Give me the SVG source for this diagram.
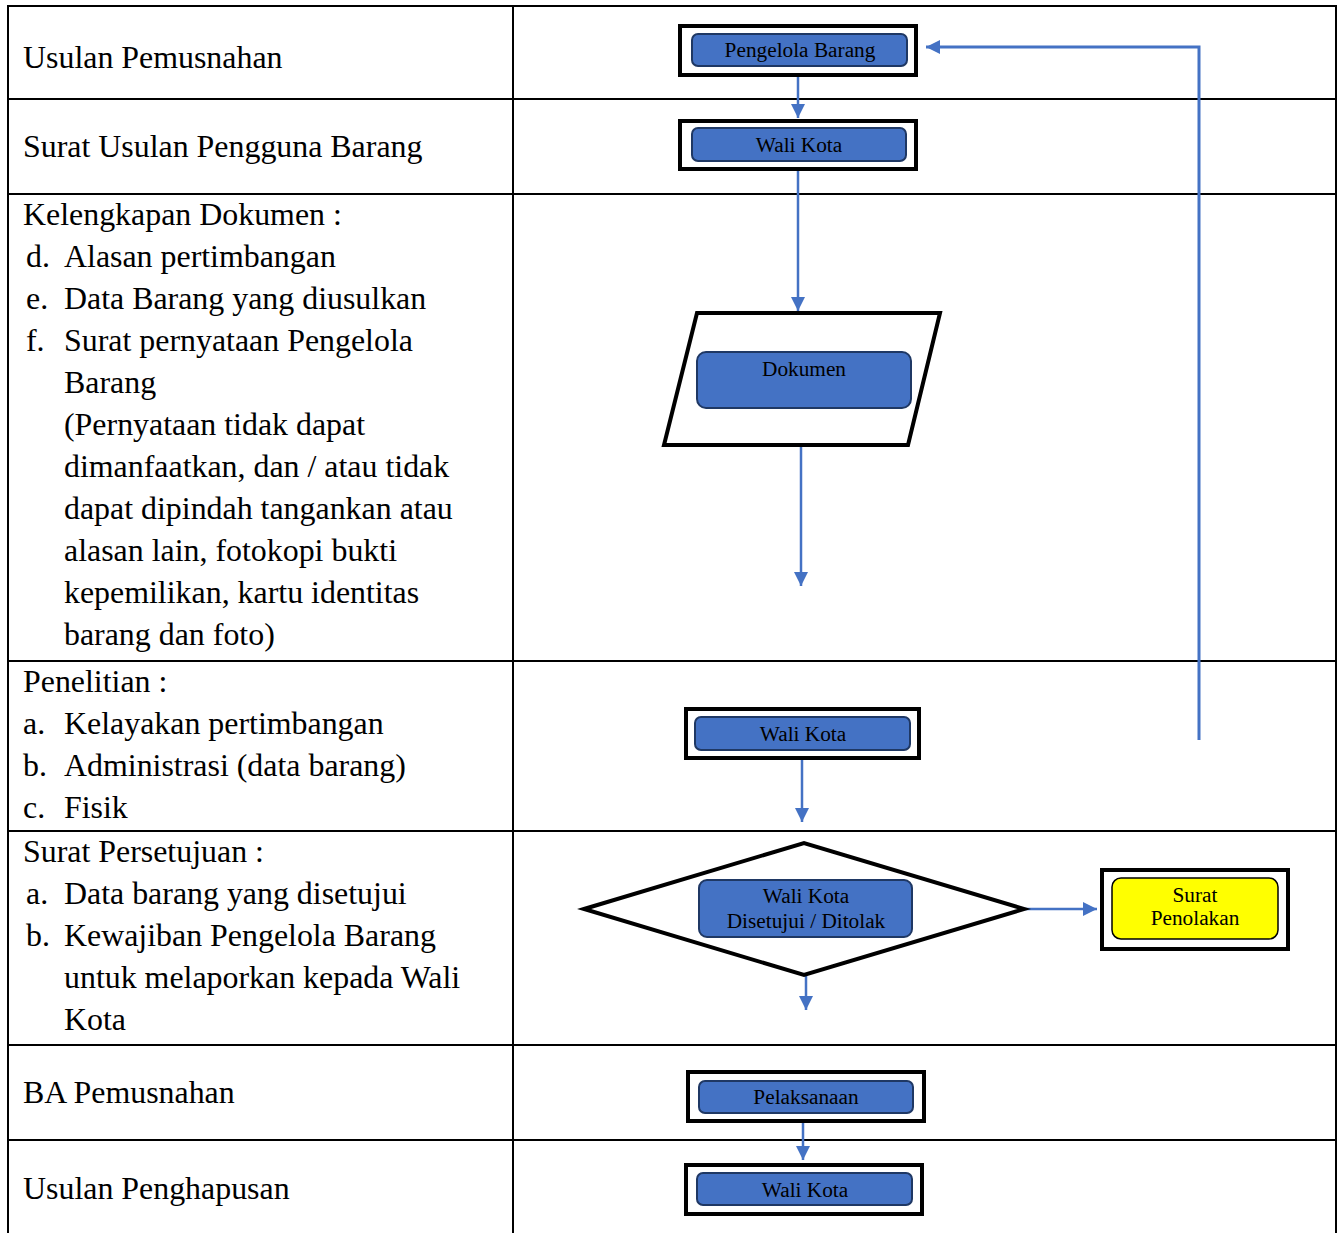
<svg xmlns="http://www.w3.org/2000/svg" width="1340" height="1233" viewBox="0 0 1340 1233">
<style>
.t{font-family:"Liberation Serif","Times New Roman",serif;font-size:31.9px;fill:#000}
.n{font-family:"Liberation Serif","Times New Roman",serif;font-size:21.3px;fill:#000;text-anchor:middle}
.grid{stroke:#000;stroke-width:2;fill:none}
.outer{fill:#fff;stroke:#000;stroke-width:4}
.inner{fill:#4472C4;stroke:#1F3864;stroke-width:2}
.yel{fill:#FFFF00;stroke:#000;stroke-width:1.5}
.shape{fill:#fff;stroke:#000;stroke-width:4;stroke-linejoin:miter}
.c{stroke:#4472C4;stroke-width:2.5;fill:none}
</style>
<defs>
<marker id="ah" markerUnits="userSpaceOnUse" markerWidth="16" markerHeight="16" refX="14" refY="7" orient="auto">
<path d="M0,0 L14,7 L0,14 Z" fill="#4472C4"/>
</marker>
</defs>
<rect width="1340" height="1233" fill="#fff"/>
<g id="table">
<path class="grid" d="M8,1233 V6 H1336 V1233 M513,6 V1233 M8,99 H1336 M8,194 H1336 M8,661 H1336 M8,831 H1336 M8,1045 H1336 M8,1140 H1336"/>
</g>
<g id="labels">
<text class="t" x="23" y="68">Usulan Pemusnahan</text>
<text class="t" x="23" y="157">Surat Usulan Pengguna Barang</text>
<text class="t" x="23" y="225">Kelengkapan Dokumen :</text>
<text class="t" x="26" y="267">d.</text><text class="t" x="64" y="267">Alasan pertimbangan</text>
<text class="t" x="26" y="309">e.</text><text class="t" x="64" y="309">Data Barang yang diusulkan</text>
<text class="t" x="26" y="351">f.</text><text class="t" x="64" y="351">Surat pernyataan Pengelola</text>
<text class="t" x="64" y="393">Barang</text>
<text class="t" x="64" y="435">(Pernyataan tidak dapat</text>
<text class="t" x="64" y="477">dimanfaatkan, dan / atau tidak</text>
<text class="t" x="64" y="519">dapat dipindah tangankan atau</text>
<text class="t" x="64" y="561">alasan lain, fotokopi bukti</text>
<text class="t" x="64" y="603">kepemilikan, kartu identitas</text>
<text class="t" x="64" y="645">barang dan foto)</text>
<text class="t" x="23" y="692">Penelitian :</text>
<text class="t" x="23" y="734">a.</text><text class="t" x="64" y="734">Kelayakan pertimbangan</text>
<text class="t" x="23" y="776">b.</text><text class="t" x="64" y="776">Administrasi (data barang)</text>
<text class="t" x="23" y="818">c.</text><text class="t" x="64" y="818">Fisik</text>
<text class="t" x="23" y="862">Surat Persetujuan :</text>
<text class="t" x="26" y="904">a.</text><text class="t" x="64" y="904">Data barang yang disetujui</text>
<text class="t" x="26" y="946">b.</text><text class="t" x="64" y="946">Kewajiban Pengelola Barang</text>
<text class="t" x="64" y="988">untuk melaporkan kepada Wali</text>
<text class="t" x="64" y="1030">Kota</text>
<text class="t" x="23" y="1103">BA Pemusnahan</text>
<text class="t" x="23" y="1199">Usulan Penghapusan</text>
</g>
<g id="connectors">
<path class="c" d="M798,75 V118" marker-end="url(#ah)"/>
<path class="c" d="M798,169 V311" marker-end="url(#ah)"/>
<path class="c" d="M801,445 V586" marker-end="url(#ah)"/>
<path class="c" d="M802,758 V822" marker-end="url(#ah)"/>
<path class="c" d="M806,975 V1010" marker-end="url(#ah)"/>
<path class="c" d="M1025,909 H1097" marker-end="url(#ah)"/>
<path class="c" d="M803,1121 V1160" marker-end="url(#ah)"/>
<path class="c" style="stroke-width:3" d="M1199,740 V47 H926" marker-end="url(#ah)"/>
</g>
<g id="node-pengelola">
<rect class="outer" x="680" y="26" width="236" height="49"/>
<rect class="inner" x="692" y="34" width="215" height="32" rx="6"/>
<text class="n" x="800" y="57">Pengelola Barang</text>
</g>
<g id="node-walikota1">
<rect class="outer" x="680" y="121" width="236" height="48"/>
<rect class="inner" x="692" y="128" width="214" height="33" rx="6"/>
<text class="n" x="799" y="152">Wali Kota</text>
</g>
<g id="node-dokumen">
<polygon class="shape" points="697,313 940,313 908,445 664,445"/>
<rect class="inner" x="697" y="352" width="214" height="56" rx="9"/>
<text class="n" x="804" y="376">Dokumen</text>
</g>
<g id="node-walikota2">
<rect class="outer" x="686" y="709" width="233" height="49"/>
<rect class="inner" x="695" y="717" width="215" height="33" rx="6"/>
<text class="n" x="803" y="741">Wali Kota</text>
</g>
<g id="node-keputusan">
<polygon class="shape" points="584,909 804,843 1024,909 804,975"/>
<rect class="inner" x="699" y="880" width="213" height="57" rx="8"/>
<text class="n" x="806" y="903">Wali Kota</text>
<text class="n" x="806" y="928">Disetujui / Ditolak</text>
</g>
<g id="node-penolakan">
<rect class="outer" x="1102" y="870" width="186" height="79"/>
<rect class="yel" x="1112" y="878" width="166" height="61" rx="9"/>
<text class="n" x="1195" y="902">Surat</text>
<text class="n" x="1195" y="925">Penolakan</text>
</g>
<g id="node-pelaksanaan">
<rect class="outer" x="688" y="1072" width="236" height="49"/>
<rect class="inner" x="699" y="1081" width="214" height="32" rx="6"/>
<text class="n" x="806" y="1104">Pelaksanaan</text>
</g>
<g id="node-walikota3">
<rect class="outer" x="686" y="1165" width="236" height="49"/>
<rect class="inner" x="697" y="1173" width="215" height="32" rx="6"/>
<text class="n" x="805" y="1197">Wali Kota</text>
</g>
</svg>
